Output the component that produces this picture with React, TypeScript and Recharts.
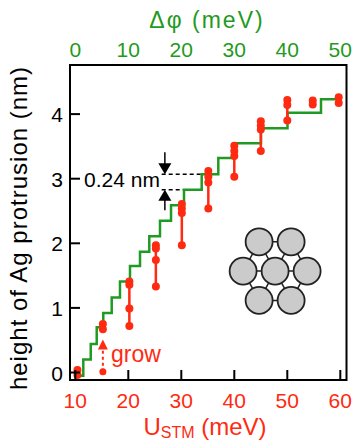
import React from "react";
import {
  ComposedChart,
  Line,
  Scatter,
  XAxis,
  YAxis,
  ReferenceLine,
  ReferenceDot,
  ReferenceArea,
} from "recharts";

const GREEN = "#1f9a22";
const RED = "#ff2a12";
const FONT = "'Liberation Sans', Arial, sans-serif";

// green staircase (step corners, stepAfter)
const stepU = [10.7, 11.51, 12.91, 14.04, 15.28, 16.87, 18.43, 20.32, 22.21, 23.96, 25.98, 28.06, 30.51, 33.85, 36.98, 39.9, 45.04, 50.04, 56.36, 59.57];
const stepH = [-0.05, 0.2, 0.44, 0.7, 0.92, 1.16, 1.41, 1.65, 1.87, 2.11, 2.35, 2.59, 2.83, 3.07, 3.32, 3.55, 3.78, 4.02, 4.23, 4.23];

// red measured heights at each bias
const clusterU = [10.4, 15.2, 20.2, 25.2, 30.1, 35.1, 40.0, 45.0, 50.0, 54.8, 59.7];
const clusterH = [
  [0.04, -0.04],
  [0.75, 0.67],
  [1.41, 1.36, 0.99, 0.72],
  [1.97, 1.92, 1.74, 1.33],
  [2.61, 2.54, 2.47, 1.97],
  [3.12, 3.03, 2.94, 2.54],
  [3.51, 3.43, 3.35, 3.03],
  [3.89, 3.82, 3.76, 3.43],
  [4.22, 4.14, 3.9],
  [4.21, 4.15],
  [4.26, 4.17],
];

const growU = 15.2;
const growFrom = 0.01;
const growTo = 0.51;

// bottom axis U_STM; top axis shows Δφ = U_STM - 10
const bottomTicks = [10, 20, 30, 40, 50, 60];
const topTickLabels = [0, 10, 20, 30, 40, 50];
const yTicks = [0, 1, 2, 3, 4];

const X_DOMAIN: [number, number] = [9.0, 61.17];
const Y_DOMAIN: [number, number] = [-0.116, 4.76];

const stairs = stepU.map((u, i) => ({ u, h: stepH[i] }));
const clusters = clusterU.map((u, i) => clusterH[i].map((h) => ({ u, h })));

const PLOT_TOP = 65;
const PLOT_BOTTOM = 380;
const PLOT_LEFT = 70;

const BottomTick = ({ x, payload, index }: any) => (
  <g>
    <line x1={x} x2={x} y1={PLOT_BOTTOM} y2={PLOT_BOTTOM - 10} stroke="#000" strokeWidth={2} />
    <text x={x} y={PLOT_BOTTOM + 28} textAnchor="middle" fill={RED} fontSize={21} fontFamily={FONT}>
      {payload.value}
    </text>
    <text x={x} y={PLOT_TOP - 8} textAnchor="middle" fill={GREEN} fontSize={21} fontFamily={FONT}>
      {topTickLabels[index]}
    </text>
  </g>
);

const LeftTick = ({ y, payload }: any) => (
  <g>
    <line x1={PLOT_LEFT} x2={PLOT_LEFT + 10} y1={y} y2={y} stroke="#000" strokeWidth={2} />
    <text x={PLOT_LEFT - 7} y={y + 8} textAnchor="end" fill="#000" fontSize={21} fontFamily={FONT}>
      {payload.value}
    </text>
  </g>
);

const dot = (props: any) => <circle cx={props.cx} cy={props.cy} r={4} fill={RED} />;

const arrowHead = (dir: number, color: string, w: number, h: number) => (props: any) => {
  const { cx, cy } = props;
  return (
    <polygon
      points={`${cx},${cy} ${cx - w / 2},${cy - dir * h} ${cx + w / 2},${cy - dir * h}`}
      fill={color}
    />
  );
};

const hexCluster = (props: any) => {
  const { cx, cy } = props;
  const d = 32;
  const dy = 29.3;
  const c = [
    [-d / 2, -dy],
    [d / 2, -dy],
    [-d, 0],
    [0, 0],
    [d, 0],
    [-d / 2, dy],
    [d / 2, dy],
  ];
  const bonds: number[][] = [];
  for (let i = 0; i < c.length; i++)
    for (let j = i + 1; j < c.length; j++) {
      const dd = Math.hypot(c[i][0] - c[j][0], c[i][1] - c[j][1]);
      if (dd < 36) bonds.push([i, j]);
    }
  return (
    <g>
      {bonds.map(([i, j], k) => (
        <line key={k} x1={cx + c[i][0]} y1={cy + c[i][1]} x2={cx + c[j][0]} y2={cy + c[j][1]} stroke="#222" strokeWidth={1.5} />
      ))}
      {c.map(([dx, ddy], k) => (
        <circle key={k} cx={cx + dx} cy={cy + ddy} r={13.5} fill="#cbcbcb" stroke="#222" strokeWidth={1.8} />
      ))}
    </g>
  );
};

export default function App() {
  return (
    <div style={{ position: "absolute", left: 0, top: 0, width: 357, height: 443 }}>
      <ComposedChart
        width={357}
        height={443}
        margin={{ top: 65, right: 10.5, bottom: 62, left: 69 }}
      >
        <XAxis
          xAxisId="b"
          type="number"
          dataKey="u"
          domain={X_DOMAIN}
          ticks={bottomTicks}
          allowDataOverflow
          height={1}
          tickSize={0}
          tickMargin={0}
          axisLine={false}
          tickLine={false}
          tick={<BottomTick />}
          interval={0}
        />
        <YAxis
          yAxisId="l"
          type="number"
          domain={Y_DOMAIN}
          ticks={yTicks}
          allowDataOverflow
          width={1}
          tickSize={0}
          tickMargin={0}
          axisLine={false}
          tickLine={false}
          tick={<LeftTick />}
          interval={0}
        />
        <ReferenceArea
          xAxisId="b"
          yAxisId="l"
          x1={X_DOMAIN[0]}
          x2={X_DOMAIN[1]}
          y1={Y_DOMAIN[0]}
          y2={Y_DOMAIN[1]}
          fill="none"
          stroke="#000"
          strokeWidth={2}
          ifOverflow="visible"
        />
        <ReferenceDot xAxisId="b" yAxisId="l" x={47.7} y={1.57} shape={hexCluster} />

        {/* 0.24 nm step marker */}
        <ReferenceLine xAxisId="b" yAxisId="l" segment={[{ x: 26.3, y: 3.07 }, { x: 33.85, y: 3.07 }]} stroke="#000" strokeWidth={1.5} strokeDasharray="4 3" />
        <ReferenceLine xAxisId="b" yAxisId="l" segment={[{ x: 26.3, y: 2.83 }, { x: 30.51, y: 2.83 }]} stroke="#000" strokeWidth={1.5} strokeDasharray="4 3" />
        <ReferenceLine xAxisId="b" yAxisId="l" segment={[{ x: 26.9, y: 3.41 }, { x: 26.9, y: 3.2 }]} stroke="#000" strokeWidth={1.5} />
        <ReferenceDot xAxisId="b" yAxisId="l" x={26.9} y={3.07} shape={arrowHead(1, "#000", 13, 11)} />
        <ReferenceLine xAxisId="b" yAxisId="l" segment={[{ x: 26.9, y: 2.51 }, { x: 26.9, y: 2.7 }]} stroke="#000" strokeWidth={1.5} />
        <ReferenceDot xAxisId="b" yAxisId="l" x={26.9} y={2.83} shape={arrowHead(-1, "#000", 13, 11)} />

        <Line
          xAxisId="b"
          yAxisId="l"
          data={stairs}
          dataKey="h"
          type="stepAfter"
          stroke={GREEN}
          strokeWidth={2.5}
          dot={false}
          isAnimationActive={false}
        />

        {/* grow arrow */}
        <ReferenceLine xAxisId="b" yAxisId="l" segment={[{ x: growU, y: growFrom }, { x: growU, y: growTo - 0.13 }]} stroke={RED} strokeWidth={2} strokeDasharray="3 3" />
        <ReferenceDot xAxisId="b" yAxisId="l" x={growU} y={growTo} shape={arrowHead(-1, RED, 10, 10)} />
        <Scatter
          xAxisId="b"
          yAxisId="l"
          data={[{ u: growU, h: growFrom }]}
          dataKey="h"
          shape={(p: any) => <circle cx={p.cx} cy={p.cy} r={3.5} fill={RED} />}
          isAnimationActive={false}
        />

        {clusters.map((pts, i) => (
          <Scatter
            key={i}
            xAxisId="b"
            yAxisId="l"
            data={pts}
            dataKey="h"
            line={{ stroke: RED, strokeWidth: 2.5 }}
            shape={dot}
            isAnimationActive={false}
          />
        ))}
      </ComposedChart>
      <svg width={357} height={443} style={{ position: "absolute", left: 0, top: 0, pointerEvents: "none" }}>
        <text x={207} y={28} textAnchor="middle" fill={GREEN} fontSize={23} letterSpacing={2} fontFamily={FONT}>
          Δφ (meV)
        </text>
        <text x={205} y={435} textAnchor="middle" fill={RED} fontSize={24} fontFamily={FONT}>
          U<tspan fontSize={16} dy={3}>STM</tspan>
          <tspan dy={-3}> (meV)</tspan>
        </text>
        <text transform="translate(27,228) rotate(-90)" textAnchor="middle" fill="#000" fontSize={24} letterSpacing={1} fontFamily={FONT}>
          height of Ag protrusion  (nm)
        </text>
        <text x={84} y={187} fill="#000" fontSize={21} fontFamily={FONT}>
          0.24 nm
        </text>
        <text x={111} y={362} fill={RED} fontSize={23} fontFamily={FONT}>
          grow
        </text>
      </svg>
    </div>
  );
}
